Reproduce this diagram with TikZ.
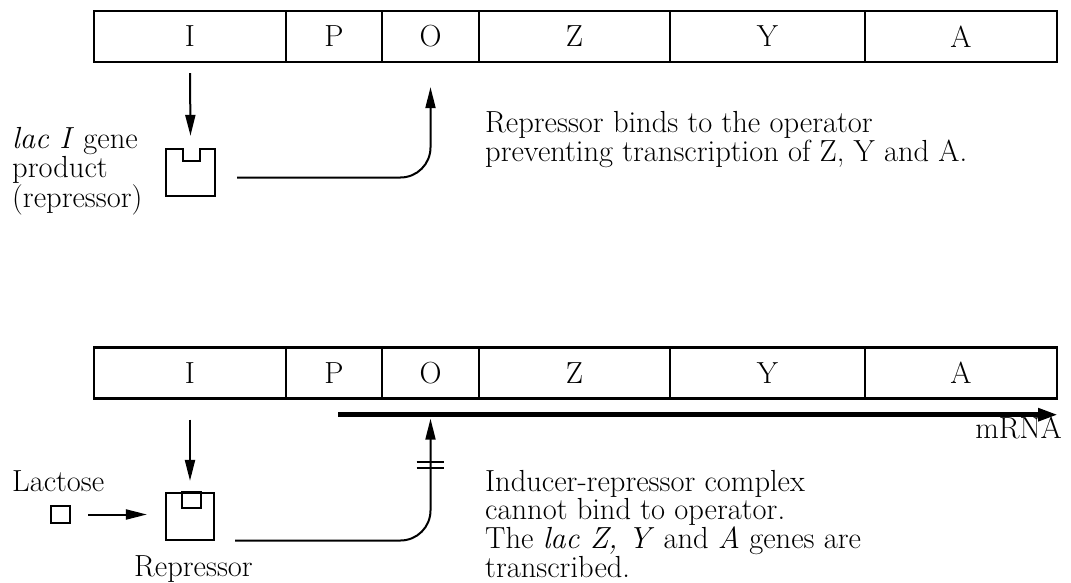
\documentclass[tikz,border=0pt]{standalone}
\usetikzlibrary{arrows.meta}
\tikzset{
  gene/.style={draw, line width=2.4pt, minimum height=51pt, inner sep=0pt},
  repbox/.style={minimum width=49pt, minimum height=47pt, inner sep=0pt},
  arr/.style={-{Triangle[length=21pt,width=10pt]}, line width=2pt},
  lbl/.style={inner sep=0pt, align=left, anchor=base west},
}
\begin{document}
\begin{tikzpicture}[x=1pt, y=-1pt, font=\fontsize{30.5}{26.5}\selectfont]
\useasboundingbox (0,0) rectangle (1071,583);
% operon with repressor bound
\node[gene, minimum width=192pt] (tI) at (190,36.5) {I};
\node[gene, minimum width=96pt] (tP) at (334,36.5) {P};
\node[gene, minimum width=97pt] (tO) at (430.5,36.5) {O};
\node[gene, minimum width=191pt] (tZ) at (574.5,36.5) {Z};
\node[gene, minimum width=195pt] (tY) at (767.5,36.5) {Y};
\node[gene, minimum width=192pt] (tA) at (961,36.5) {A};
\node[repbox] (rep1) at (190.5,172.5) {};
\draw [line width=2.2pt] (rep1.north east) -- ++(-15,0) -- ++(0,12) -- ++(-17,0) -- ++(0,-12)
  -- (rep1.north west) -- (rep1.south west) -- (rep1.south east) -- cycle;
\draw [arr] ([yshift=-10pt]tI.south) -- ([yshift=13pt]rep1.north);
\draw [arr, rounded corners=30pt] ([shift={(22pt,-5pt)}]rep1.east) -| ([yshift=-24pt]tO.south);
\node[lbl] (prod) at (12,207) {\textit{lac I} gene\\product\\(repressor)};
\node[lbl] (note1) at (485,161) {Repressor binds to the operator\\preventing transcription of Z, Y and A.};
% operon with inducer present
\node[gene, minimum width=192pt] (bI) at (190,373) {I};
\node[gene, minimum width=96pt] (bP) at (334,373) {P};
\node[gene, minimum width=97pt] (bO) at (430.5,373) {O};
\node[gene, minimum width=191pt] (bZ) at (574.5,373) {Z};
\node[gene, minimum width=195pt] (bY) at (767.5,373) {Y};
\node[gene, minimum width=192pt] (bA) at (961,373) {A};
\draw [-{Triangle[length=20pt,width=12pt]}, line width=5pt] ([shift={(4pt,-15pt)}]bP.south) -- ([yshift=-15pt]bA.south east);
\node[inner sep=0pt, anchor=base east] (mrna) at (1062,438) {mRNA};
\node[repbox, draw, line width=2.2pt, minimum width=48pt] (rep2) at (190,516.5) {};
\draw [line width=2.2pt] ([xshift=-8pt]rep2.north) rectangle ([shift={(11pt,-16pt)}]rep2.north);
\node[draw, line width=2.2pt, minimum width=19pt, minimum height=17pt, inner sep=0pt] (lac) at (60.5,514.5) {};
\node[lbl] (lactose) at (12,491) {Lactose};
\node[inner sep=0pt, anchor=base] (repname) at (193.5,576) {Repressor};
\draw [arr] ([yshift=-20pt]bI.south) -- ([yshift=11pt]rep2.north);
\draw [arr] ([xshift=17pt]lac.east) -- ([xshift=-18pt]rep2.west |- lac.east);
\draw [arr, rounded corners=30pt] ([shift={(20pt,-24pt)}]rep2.east) -| ([yshift=-19pt]bO.south);
\draw [line width=2.2pt] ([shift={(-14pt,-62pt)}]bO.south) -- ++(27,0);
\draw [line width=2.2pt] ([shift={(-14pt,-68pt)}]bO.south) -- ++(27,0);
\node[lbl] (note2) at (485,577) {Inducer-repressor complex\\cannot bind to operator.\\The \textit{lac Z, Y} and \textit{A} genes are\\transcribed.};
\end{tikzpicture}
\end{document}
